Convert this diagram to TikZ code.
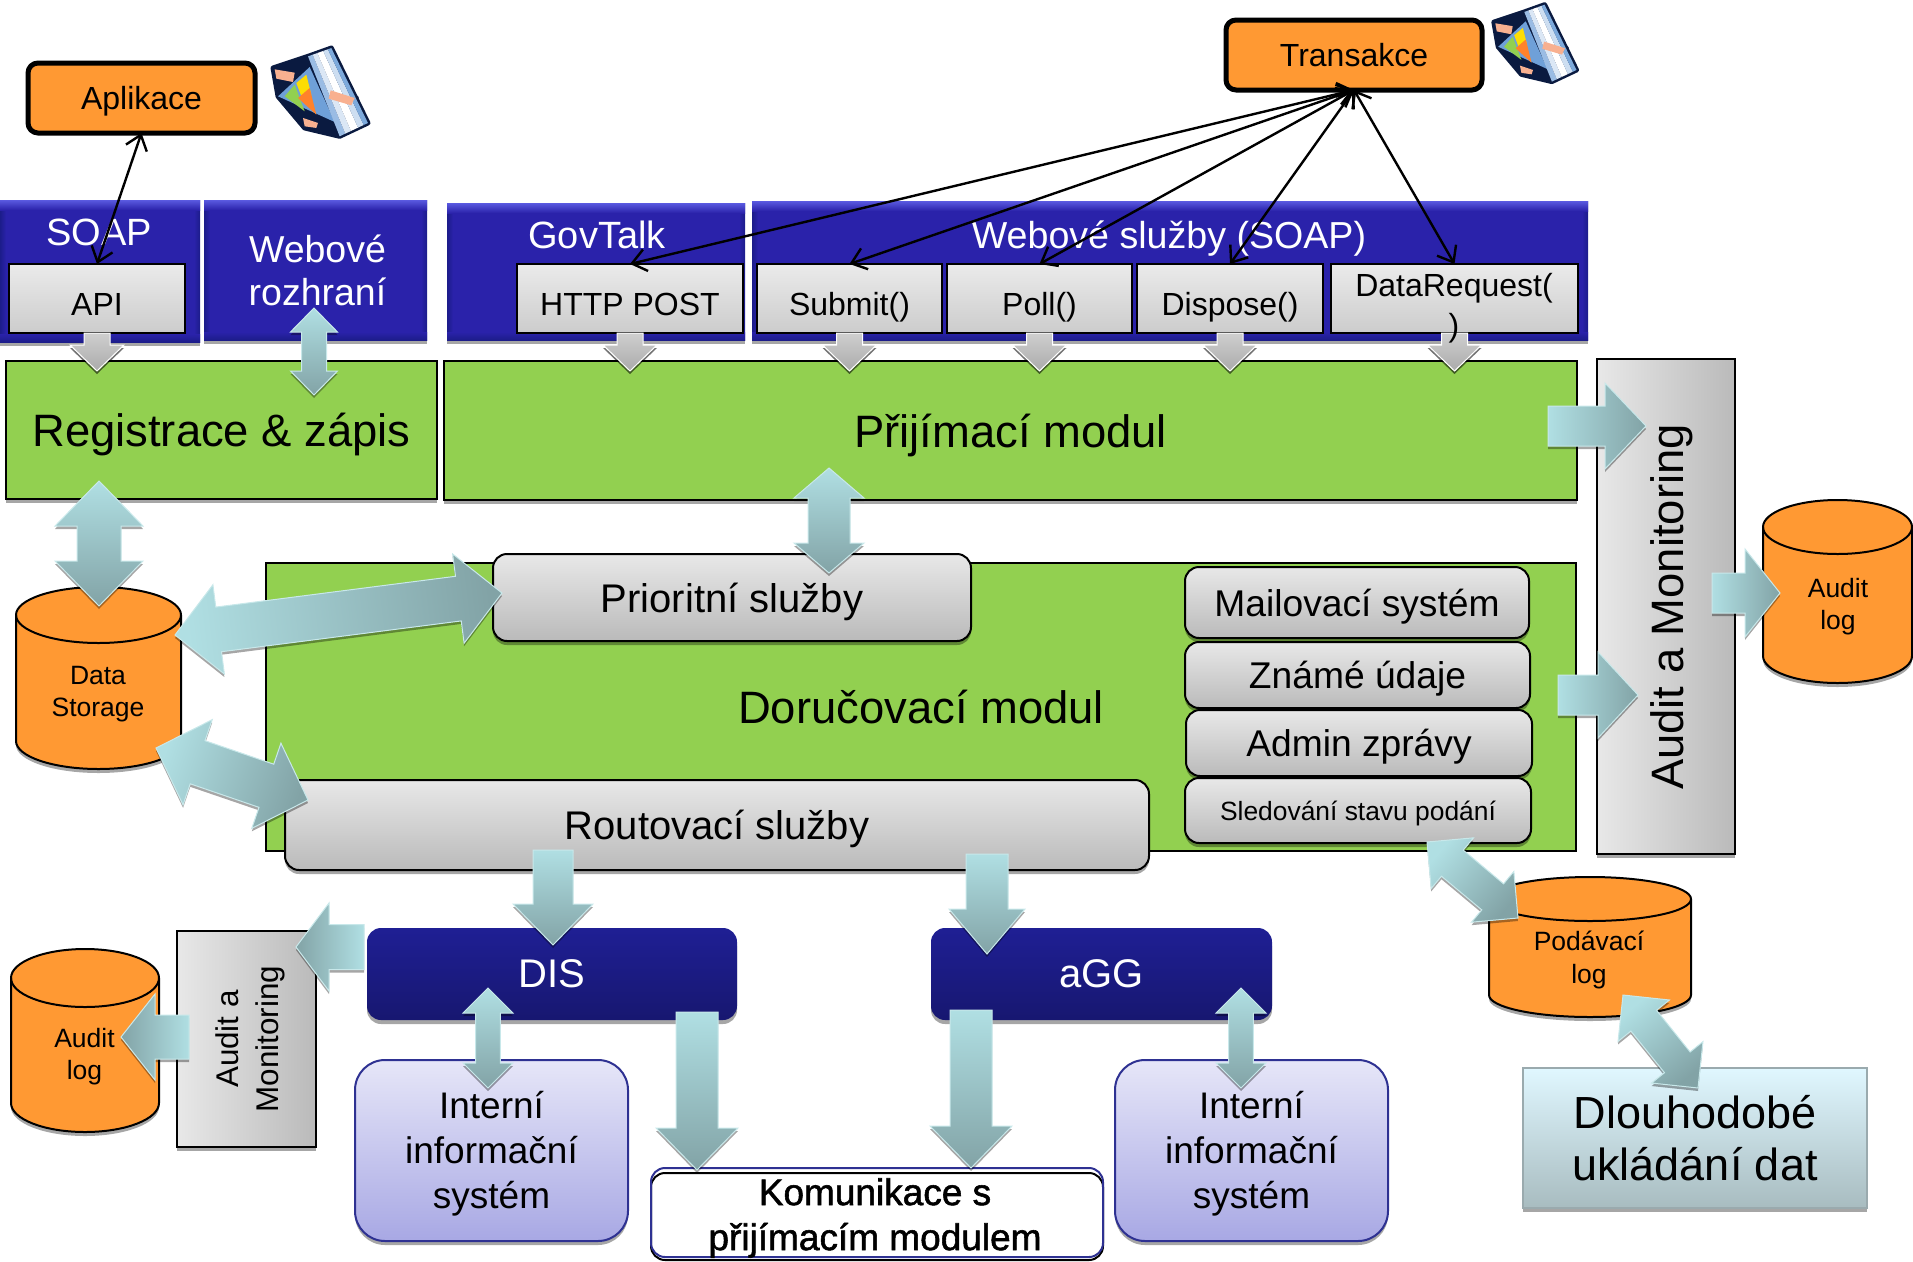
\documentclass[tikz,border=0pt]{standalone}
\usepackage{fontspec}
\setmainfont{Liberation Sans}
\usetikzlibrary{calc,arrows.meta,shadows}
\definecolor{orng}{HTML}{FF9933}
\definecolor{grn}{HTML}{92D050}
\definecolor{flowL}{HTML}{B0DFE3}
\definecolor{flowD}{HTML}{82A3A6}
\definecolor{flowE}{HTML}{C8E8EA}
\definecolor{navyT}{HTML}{1F1F94}
\definecolor{navyB}{HTML}{171770}
\definecolor{lilT}{HTML}{E6E6F8}
\definecolor{lilB}{HTML}{A8A8E4}
\definecolor{lilE}{HTML}{2E3192}
\definecolor{bl1}{HTML}{5A5AE0}
\definecolor{bl2}{HTML}{2A22AA}
\definecolor{bl3}{HTML}{1C1C8A}
\definecolor{dk2}{HTML}{E0F7FF}
\definecolor{dk3}{HTML}{A8BCC0}
\definecolor{dk4}{HTML}{9AAAAE}
\definecolor{icoE}{HTML}{0A1A40}
\definecolor{icoT}{HTML}{F8B090}
\definecolor{icoB}{HTML}{6FA0D8}
\tikzset{
  bxbase/.style={inner sep=0pt,outer sep=0pt,align=center},
  fs/.style={font=\fontsize{#1pt}{#1pt}\selectfont,text depth=0pt},
  fsl/.style n args={2}{font=\fontsize{#1pt}{#2pt}\selectfont},
  apirow/.style={font=\fontsize{32pt}{32pt}\selectfont,text height=33pt,text depth=0pt},
  softshadow/.style={drop shadow={shadow xshift=0pt,shadow yshift=-4pt,fill=black,opacity=.35}},
  appbox/.style={draw=black,line width=5pt,fill=orng,rounded corners=10pt,text=black},
  bluebox/.style={fill=bl2,softshadow,text=white},
  graybox/.style={draw=black,line width=2pt,top color=black!8,bottom color=black!20,text=black},
  grayround/.style={draw=black,line width=2pt,top color=black!9,bottom color=black!27,rounded corners=14pt,softshadow,text=black},
  greenbox/.style={draw=black,line width=2pt,fill=grn,text=black},
  auditbox/.style={draw=black,line width=2pt,left color=black!9,right color=black!27,softshadow},
  navybox/.style={top color=navyT,bottom color=navyB,rounded corners=14pt,softshadow,text=white},
  lilbox/.style={draw=lilE,line width=2pt,top color=lilT,bottom color=lilB,rounded corners=30pt,softshadow},
  palebox/.style={draw=dk4,line width=2pt,top color=dk2,bottom color=dk3,softshadow,text=black},
  flow/.style={draw=flowE,line width=1pt,top color=flowL,bottom color=flowD,drop shadow={shadow xshift=0pt,shadow yshift=-3pt,fill=black,opacity=.35}},
  gflow/.style={draw=white,line width=1pt,top color=black!19,bottom color=black!33,drop shadow={shadow xshift=0pt,shadow yshift=-3pt,fill=black,opacity=.55}},
  thinlink/.style={draw=black,line width=2.4pt,{Straight Barb[length=14pt,width=22pt]}-{Straight Barb[length=14pt,width=22pt]}},
  cylbody/.style={draw=black,line width=2pt,fill=orng,softshadow},
}
% name, x0, y0, x1, y1, style, text
\newcommand\bx[7]{\node[bxbase,#6,minimum width={(#4-#2)*1pt},minimum height={(#5-#3)*1pt}] (#1) at ({(#2+#4)/2},{(#3+#5)/2}) {#7};}
% edge shading of a blue panel
\newcommand\bevel[1]{
  \fill[left color=bl3,right color=bl2] (#1.north west) rectangle ([xshift=6pt]#1.south west);
  \fill[left color=bl2,right color=bl3] ([xshift=-6pt]#1.north east) rectangle (#1.south east);
  \fill[top color=bl2,bottom color=bl3] ([yshift=8pt]#1.south west) rectangle (#1.south east);
  \fill[top color=bl1,bottom color=bl2] (#1.north west) rectangle ([yshift=-10pt]#1.north east);}
% style, name, (start), (tip), shaft half, head half, head length, shading angle
\newcommand\sarrow[8]{\coordinate (#2s) at #3; \coordinate (#2e) at #4;
  \path[#1,shading angle=#8] ($(#2s)!#5pt!90:(#2e)$) -- ($(#2e)!#7pt!(#2s)!#5pt!-90:(#2s)$) -- ($(#2e)!#7pt!(#2s)!#6pt!-90:(#2s)$) -- (#2e) -- ($(#2e)!#7pt!(#2s)!#6pt!90:(#2s)$) -- ($(#2e)!#7pt!(#2s)!#5pt!90:(#2s)$) -- ($(#2s)!#5pt!-90:(#2e)$) -- cycle;}
\newcommand\darrow[8]{\coordinate (#2s) at #3; \coordinate (#2e) at #4;
  \path[#1,shading angle=#8] (#2s) -- ($(#2s)!#7pt!(#2e)!#6pt!90:(#2e)$) -- ($(#2s)!#7pt!(#2e)!#5pt!90:(#2e)$) -- ($(#2e)!#7pt!(#2s)!#5pt!-90:(#2s)$) -- ($(#2e)!#7pt!(#2s)!#6pt!-90:(#2s)$) -- (#2e) -- ($(#2e)!#7pt!(#2s)!#6pt!90:(#2s)$) -- ($(#2e)!#7pt!(#2s)!#5pt!90:(#2s)$) -- ($(#2s)!#7pt!(#2e)!#5pt!-90:(#2e)$) -- ($(#2s)!#7pt!(#2e)!#6pt!-90:(#2e)$) -- cycle;}
% name, x0, y0, x1, y1, ry
\newcommand\cyl[6]{\pgfmathsetmacro\rxv{(#4-#2)/2}\pgfmathsetmacro\ytop{#3+#6}\pgfmathsetmacro\ybot{#5-#6}
  \draw[cylbody] (#2,\ytop) arc[start angle=180,end angle=0,x radius=\rxv pt,y radius=#6pt] -- (#4,\ybot) arc[start angle=0,end angle=-180,x radius=\rxv pt,y radius=#6pt] -- cycle;
  \draw[draw=black,line width=2pt] (#2,\ytop) arc[start angle=180,end angle=360,x radius=\rxv pt,y radius=#6pt];}
\newcommand\planeicon[3]{\begin{scope}[shift={(#1,#2)},scale=#3]
  \draw[icoE,line width=5pt,line join=round,fill=icoE] (-135,-72)--(-30,-107)--(40,-132)--(150,93)--(65,133)--(-40,108)--(-120,13)--cycle;
  \draw[icoE,line width=5pt,line join=round,fill=icoE] (35,-7)--(115,18)--(105,43)--(30,23)--cycle;
  \fill[icoT] (-130,-68)--(-70,-58)--(-75,-30)--(-125,-40)--cycle;
  \fill[icoB] (-120,13)--(-25,-75)--(50,90)--cycle;
  \fill[icoT] (-45,78)--(0,93)--(-5,108)--(-40,103)--cycle;
  \coordinate (iA) at (-30,-107); \coordinate (iB) at (40,-132); \coordinate (iC) at (150,93); \coordinate (iD) at (65,133);
  \fill[icoB!70!white] ($(iA)!0!(iB)$)--($(iA)!.2!(iB)$)--($(iD)!.2!(iC)$)--($(iD)!0!(iC)$)--cycle;
  \fill[icoB!25!white] ($(iA)!.2!(iB)$)--($(iA)!.4!(iB)$)--($(iD)!.4!(iC)$)--($(iD)!.2!(iC)$)--cycle;
  \fill[white] ($(iA)!.4!(iB)$)--($(iA)!.65!(iB)$)--($(iD)!.65!(iC)$)--($(iD)!.4!(iC)$)--cycle;
  \fill[icoB!35!white] ($(iA)!.65!(iB)$)--($(iA)!.85!(iB)$)--($(iD)!.85!(iC)$)--($(iD)!.65!(iC)$)--cycle;
  \fill[icoB!90!white] ($(iA)!.85!(iB)$)--($(iA)!1!(iB)$)--($(iD)!1!(iC)$)--($(iD)!.85!(iC)$)--cycle;
  \fill[icoT] (38,-5)--(110,18)--(100,40)--(32,20)--cycle;
  \fill[yellow!80!orange] (-65,-27)--(-35,-52)--(-20,8)--(-50,13)--cycle;
  \fill[grn] (-100,13)--(-70,-22)--(-40,58)--cycle;
  \fill[orng!85!red] (-60,18)--(-25,-12)--(-5,68)--cycle;
\end{scope}}
\begin{document}
\begin{tikzpicture}[x=1pt,y=-1pt]
\useasboundingbox (0,0) rectangle (1913,1261);
% green modules
\bx{reg}{6}{361}{437}{499}{greenbox,softshadow,fs=45.4}{Registrace \& zápis}
\bx{prij}{444}{361}{1577}{500}{greenbox,softshadow,fs=45.4}{Přijímací modul}
\bx{doruc}{266}{563}{1576}{851}{greenbox,fs=45.4}{Doručovací modul}
% blue interface panels
\bx{soap}{0}{200}{200}{342}{bluebox}{}
\bx{webroz}{204}{200}{427}{340}{bluebox}{}
\bx{gov}{447}{203}{745}{340}{bluebox}{}
\bx{websl}{752}{201}{1588}{340}{bluebox}{}
\bevel{soap}\bevel{webroz}\bevel{gov}\bevel{websl}
\node[bxbase,fs=38,text=white,anchor=base] (soapt) at (99,245) {SOAP};
\node[bxbase,fsl={37.5}{43},text=white] (webrozt) at (317.5,270) {Webové\\rozhraní};
\node[bxbase,fs=38,text=white,anchor=base] (govt) at (597,248) {GovTalk};
\node[bxbase,fs=37.6,text=white,anchor=base] (weblt) at (1169,248) {Webové služby (SOAP)};
% API boxes
\bx{api}{9}{264}{185}{333}{graybox,apirow}{API}
\bx{http}{517}{264}{743}{333}{graybox,apirow}{HTTP POST}
\bx{submit}{757}{264}{942}{333}{graybox,apirow}{Submit()}
\bx{poll}{947}{264}{1132}{333}{graybox,apirow}{Poll()}
\bx{dispose}{1137}{264}{1323}{333}{graybox,apirow}{Dispose()}
\bx{datareq}{1331}{264}{1578}{333}{graybox}{}
% delivery services
\bx{prior}{493}{554}{971}{641}{grayround,fs=40}{Prioritní služby}
\bx{rout}{285}{780}{1149}{870}{grayround,fs=40}{Routovací služby}
\bx{mail}{1185}{567}{1529}{638}{grayround,fs=37.2}{Mailovací systém}
\bx{zname}{1185}{642}{1530}{708}{grayround,fs=37.2}{Známé údaje}
\bx{admin}{1186}{710}{1532}{776}{grayround,fs=37.2}{Admin zprávy}
\bx{sled}{1185}{778}{1531}{843}{grayround,fs=26.4}{Sledování stavu podání}
% audit panels
\bx{auditR}{1597}{359}{1735}{854}{auditbox}{}
\node[bxbase,fs=45.4,rotate=90] (auditRt) at (1667,607) {Audit a Monitoring};
\bx{auditL}{177}{931}{316}{1147}{auditbox}{}
\node[bxbase,fsl={31.4}{40},rotate=90] (auditLt) at (250.5,1039) {Audit a\\Monitoring};
% storages
\cyl{logR}{1763}{500}{1912}{683}{27}
\node[bxbase,fsl={26.5}{32}] (logRt) at (1838,607) {Audit\\log};
\cyl{data}{16}{587}{181}{769}{28}
\node[bxbase,fsl={26.5}{32}] (datat) at (98,694.5) {Data\\Storage};
\cyl{logL}{11}{949}{159}{1132}{29}
\node[bxbase,fsl={26.5}{32}] (logLt) at (84.5,1057) {Audit\\log};
\cyl{podav}{1489}{877}{1691}{1017}{22}
\node[bxbase,fsl={26.5}{33}] (podavt) at (1589,960) {Podávací\\log};
% lower systems
\bx{dis}{367}{928}{737}{1020}{navybox,fs=40}{DIS}
\bx{agg}{931}{928}{1272}{1020}{navybox,fs=40}{aGG}
\bx{intL}{355}{1060}{628}{1241}{lilbox}{}
\node[bxbase,fsl={37}{45}] (intLt) at (491.5,1154) {Interní\\informační\\systém};
\bx{intR}{1115}{1060}{1388}{1241}{lilbox}{}
\node[bxbase,fsl={37}{45}] (intRt) at (1251.5,1154) {Interní\\informační\\systém};
\bx{komB}{651}{1173}{1103}{1260}{draw=black,line width=2pt,fill=white,rounded corners=14pt}{}
\bx{komA}{651}{1168}{1103}{1257}{draw=lilE,line width=2pt,rounded corners=14pt}{}
\node[bxbase,font=\fontsize{37pt}{45pt}\selectfont\addfontfeature{FakeBold=1.5}] (komt) at (875,1218) {Komunikace s\\přijímacím modulem};
\bx{dlouh}{1523}{1068}{1867}{1208}{palebox,fsl={45}{52}}{Dlouhodobé\\ukládání dat}
% applications
\bx{apl}{28}{63}{255}{133}{appbox,fs=32}{Aplikace}
\bx{trans}{1226}{20}{1482}{90}{appbox,fs=32}{Transakce}
\planeicon{318}{92}{0.333}
\planeicon{1533}{43}{0.29}
% grey drop arrows
\sarrow{gflow}{ga1}{(api.south)}{(97,371)}{13}{27}{26}{0}
\sarrow{gflow}{ga2}{(http.south)}{(630,371)}{13}{27}{26}{0}
\sarrow{gflow}{ga3}{(submit.south)}{(849.5,371)}{13}{27}{26}{0}
\sarrow{gflow}{ga4}{(poll.south)}{(1039.5,371)}{13}{27}{26}{0}
\sarrow{gflow}{ga5}{(dispose.south)}{(1230,371)}{13}{27}{26}{0}
\sarrow{gflow}{ga6}{(datareq.south)}{(1454.5,371)}{13}{27}{26}{0}
\node[bxbase,fsl={32}{40}] (datareqt) at (1454,308) {DataRequest(\\)};
% thin links
\draw[thinlink] (apl.south) -- (api.north);
\draw[thinlink] (trans.south) -- (http.north);
\draw[thinlink] (trans.south) -- (submit.north);
\draw[thinlink] (trans.south) -- (poll.north);
\draw[thinlink] (trans.south) -- (dispose.north);
\draw[thinlink] (trans.south) -- (datareq.north);
% block arrows
\darrow{flow}{f1}{(314,308)}{(314,395)}{12.5}{23.5}{24}{0}
\darrow{flow}{f2}{(99,481)}{(99,606)}{22}{44}{45}{0}
\darrow{flow}{f3}{(829,468)}{(829,573)}{21}{35}{30}{0}
\darrow{flow}{f4}{(175,635)}{(502,593)}{22.5}{45}{44}{97}
\darrow{flow}{f5}{(156,748)}{(308,800)}{22.8}{45}{44}{71}
\sarrow{flow}{f6}{(553,850)}{(553,945)}{20}{40}{41}{0}
\sarrow{flow}{f7}{(987,854)}{(987,954)}{21}{38}{45}{0}
\sarrow{flow}{f8}{(697,1012)}{(697,1170)}{21}{41}{42}{0}
\sarrow{flow}{f9}{(971,1010)}{(971,1168)}{21}{41}{42}{0}
\darrow{flow}{f10}{(488,988)}{(488,1088)}{12.3}{25}{25}{0}
\darrow{flow}{f11}{(1241,988)}{(1241,1088)}{12.3}{25}{25}{0}
\sarrow{flow}{f12}{(364,947)}{(296,947)}{22.5}{44}{33}{270}
\sarrow{flow}{f13}{(189,1037)}{(121,1037)}{22}{43}{34}{270}
\sarrow{flow}{f14}{(1548,426)}{(1646,426)}{20}{43}{41}{90}
\sarrow{flow}{f15}{(1558,695)}{(1638,695)}{20}{43}{40}{90}
\sarrow{flow}{f16}{(1712,593)}{(1780,593)}{20}{44}{35}{90}
\darrow{flow}{f17}{(1427,842)}{(1518,918)}{17}{33}{33}{50}
\darrow{flow}{f18}{(1623,995)}{(1698,1088)}{16.5}{33}{33}{39}
\end{tikzpicture}
\end{document}
